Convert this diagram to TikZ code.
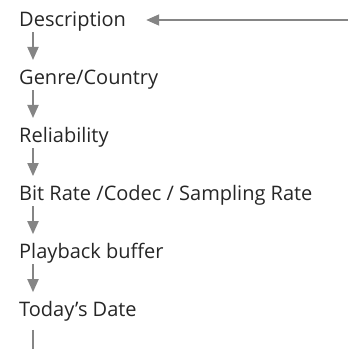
\documentclass[tikz,border=0pt]{standalone}
\usepackage{fontspec}
\setmainfont{Open Sans}
\usetikzlibrary{arrows.meta,calc}
\definecolor{arrgray}{HTML}{858585}
\definecolor{txt}{HTML}{262626}
\begin{document}
\begin{tikzpicture}[x=1pt,y=1pt,
  lbl/.style={anchor=base west,inner sep=0pt,text=txt,font=\fontsize{20}{22}\selectfont},
  arr/.style={draw=arrgray,line width=1.8pt,-{Triangle[length=13pt,width=11pt]}},
  plain/.style={draw=arrgray,line width=1.8pt}]
\useasboundingbox (0,0) rectangle (348,349);
\node[lbl] (d) at (19,322.3) {Description};
\node[lbl] (g) at (19,264.2) {Genre/Country};
\node[lbl] (r) at (19,206.2) {Reliability};
\node[lbl] (b) at (19,148.1) {Bit Rate /Codec / Sampling Rate};
\node[lbl] (p) at (19,90) {Playback buffer};
\node[lbl] (t) at (19,32) {Today’s Date};
\coordinate (src) at (348,329);
\coordinate (bot) at (33,0);
\draw[arr] (src) -- ($(d.base east)+(20,6.7)$);
\draw[arr] ($(d.base west)+(14,-5.5)$) -- ($(g.base west)+(14,24.8)$);
\draw[arr] ($(g.base west)+(14,-5.5)$) -- ($(r.base west)+(14,24.8)$);
\draw[arr] ($(r.base west)+(14,-5.5)$) -- ($(b.base west)+(14,24.8)$);
\draw[arr] ($(b.base west)+(14,-5.5)$) -- ($(p.base west)+(14,24.8)$);
\draw[arr] ($(p.base west)+(14,-5.5)$) -- ($(t.base west)+(14,24.8)$);
\draw[plain] ($(t.base west)+(14,-13)$) -- (bot);
\end{tikzpicture}
\end{document}
